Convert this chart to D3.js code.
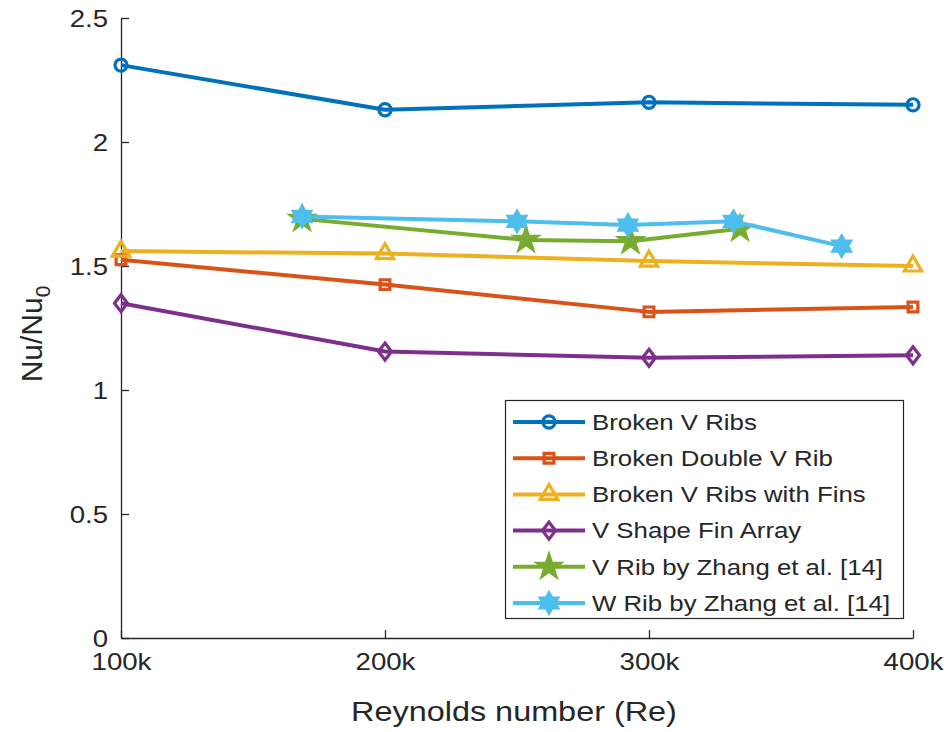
<!DOCTYPE html>
<html>
<head>
<meta charset="utf-8">
<script src="https://cdn.jsdelivr.net/npm/d3@7"></script>
<style>
  body { margin: 0; background: #fff; }
  svg text { font-family: "Liberation Sans", Arial, sans-serif; fill: #262626; }
</style>
</head>
<body>
<svg id="chart" width="950" height="732"></svg>
<script>
// Reynolds numbers for the four present configurations
const reValues = [100000, 200000, 300000, 400000];
const brokenVRibs = [2.31, 2.13, 2.16, 2.15];
const brokenDoubleVRib = [1.525, 1.425, 1.315, 1.335];
const brokenVRibsFins = [1.56, 1.55, 1.52, 1.50];
const vShapeFinArray = [1.35, 1.155, 1.13, 1.14];

// Zhang et al. [14] data at their own Re values
const zhangVRe = [168600, 253400, 293000, 334500];
const zhangVRib = [1.69, 1.605, 1.60, 1.65];
const zhangWRe = [168600, 250000, 292000, 332000, 373000];
const zhangWRib = [1.70, 1.68, 1.665, 1.68, 1.58];

const xTicks = [100000, 200000, 300000, 400000];
const xTickLabels = ["100k", "200k", "300k", "400k"];
const yTicks = [0, 0.5, 1, 1.5, 2, 2.5];
const seriesNames = ["Broken V Ribs", "Broken Double V Rib", "Broken V Ribs with Fins",
  "V Shape Fin Array", "V Rib by Zhang et al. [14]", "W Rib by Zhang et al. [14]"];

const margin = {left: 121, right: 37, top: 18, bottom: 94};
const width = 950, height = 732;
const sx = 1.2; // text in the picture is drawn a bit wide

const svg = d3.select("#chart");

const x = d3.scaleLinear().domain([100000, 400000]).range([margin.left, width - margin.right]);
const y = d3.scaleLinear().domain([0, 2.5]).range([height - margin.bottom, margin.top]);

// hexagram (6 point star) like matlab's 'h' marker
function hexagram(r) {
  const pts = [];
  for (let i = 0; i < 12; i++) {
    const a = -Math.PI / 2 + i * Math.PI / 6;
    const rr = i % 2 === 0 ? r : r / Math.sqrt(3);
    pts.push([rr * Math.cos(a), rr * Math.sin(a)]);
  }
  return "M" + pts.map(p => p.join(",")).join("L") + "Z";
}

const series = [
  {name: seriesNames[0], xs: reValues, ys: brokenVRibs, color: "#0072BD", marker: "circle"},
  {name: seriesNames[1], xs: reValues, ys: brokenDoubleVRib, color: "#D95319", marker: "square"},
  {name: seriesNames[2], xs: reValues, ys: brokenVRibsFins, color: "#EDB120", marker: "triangle"},
  {name: seriesNames[3], xs: reValues, ys: vShapeFinArray, color: "#7E2F8E", marker: "diamond"},
  {name: seriesNames[4], xs: zhangVRe, ys: zhangVRib, color: "#77AC30", marker: "star"},
  {name: seriesNames[5], xs: zhangWRe, ys: zhangWRib, color: "#4DBEEE", marker: "hexagram"}
];

function markerPath(type) {
  switch (type) {
    case "circle": return d3.symbol(d3.symbolCircle, 115)();
    case "square": return d3.symbol(d3.symbolSquare, 95)();
    case "triangle": return d3.symbol(d3.symbolTriangle, 130)();
    case "diamond": return "M0,-8.5L6.5,0L0,8.5L-6.5,0Z";
    case "star": return d3.symbol(d3.symbolStar, 150)();
    case "hexagram": return hexagram(10);
  }
}
function markerFill(s) {
  return (s.marker === "star" || s.marker === "hexagram") ? s.color : "none";
}

// axes (only left and bottom, ticks point inward)
const xAxis = d3.axisBottom(x).tickValues(xTicks)
  .tickFormat((d, i) => xTickLabels[i]).tickSizeInner(-8).tickSizeOuter(0).tickPadding(16);
const yAxis = d3.axisLeft(y).tickValues(yTicks)
  .tickFormat(d3.format("")).tickSizeInner(-8).tickSizeOuter(0).tickPadding(13);

const gx = svg.append("g")
  .attr("transform", "translate(0," + (height - margin.bottom) + ")")
  .call(xAxis);
const gy = svg.append("g")
  .attr("transform", "translate(" + margin.left + ",0)")
  .call(yAxis);

[gx, gy].forEach(g => {
  g.select(".domain").attr("stroke", "#262626").attr("stroke-width", 1.3);
  g.selectAll(".tick line").attr("stroke", "#262626").attr("stroke-width", 1.3);
  g.selectAll("text").attr("font-size", 23).attr("fill", "#262626");
});
gy.selectAll(".tick text")
  .attr("x", -13 / sx).attr("dy", "0.36em")
  .attr("transform", "scale(" + sx + ",1)");
gx.selectAll(".tick text")
  .attr("transform", "scale(" + sx + ",1)");

// axis titles
svg.append("text")
  .attr("transform", "translate(" + (x(250000) - 3) + ",721) scale(" + sx + ",1)")
  .attr("text-anchor", "middle")
  .attr("font-size", 27)
  .text("Reynolds number (Re)");

const yl = svg.append("text")
  .attr("transform", "translate(42," + (y(1.25) + 6) + ") rotate(-90)")
  .attr("text-anchor", "middle")
  .attr("font-size", 30);
yl.append("tspan").text("Nu/Nu");
yl.append("tspan").attr("font-size", 21).attr("dy", 8).text("0");

// lines and markers
const line = d3.line().x(d => x(d[0])).y(d => y(d[1]));
series.forEach(s => {
  const pts = s.xs.map((v, i) => [v, s.ys[i]]);
  const g = svg.append("g");
  g.append("path")
    .attr("d", line(pts))
    .attr("fill", "none")
    .attr("stroke", s.color)
    .attr("stroke-width", 4)
    .attr("stroke-linejoin", "round");
  g.selectAll(".mk").data(pts).join("path")
    .attr("class", "mk")
    .attr("transform", d => "translate(" + x(d[0]) + "," + y(d[1]) + ")")
    .attr("d", markerPath(s.marker))
    .attr("fill", markerFill(s))
    .attr("stroke", s.color)
    .attr("stroke-width", 3.2)
    .attr("stroke-linejoin", "miter");
});

// legend
const lg = svg.append("g");
lg.append("rect")
  .attr("x", 505.5).attr("y", 400.5)
  .attr("width", 398).attr("height", 218)
  .attr("fill", "#fff")
  .attr("stroke", "#262626").attr("stroke-width", 1.2);
series.forEach((s, i) => {
  const cy = 422 + i * 36.2;
  lg.append("line")
    .attr("x1", 513).attr("x2", 585).attr("y1", cy).attr("y2", cy)
    .attr("stroke", s.color).attr("stroke-width", 4);
  lg.append("path")
    .attr("transform", "translate(549," + cy + ")")
    .attr("d", markerPath(s.marker))
    .attr("fill", markerFill(s))
    .attr("stroke", s.color).attr("stroke-width", 3.2);
  lg.append("text")
    .attr("transform", "translate(592," + cy + ") scale(" + sx + ",1)")
    .attr("dy", "0.36em")
    .attr("font-size", 21.5)
    .text(s.name);
});
</script>
</body>
</html>
